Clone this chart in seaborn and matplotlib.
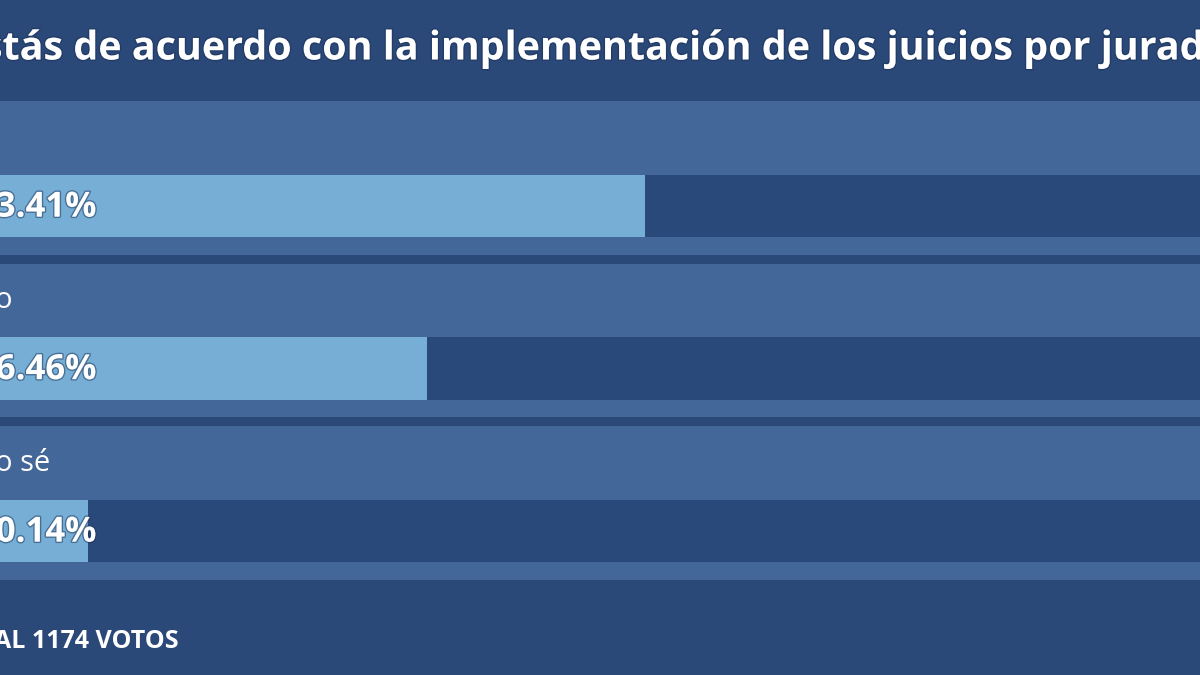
import matplotlib
matplotlib.use("Agg")
import matplotlib.pyplot as plt
from matplotlib.patches import Rectangle
import matplotlib.patheffects as pe
import seaborn as sns
import pandas as pd

# ---- data ----
title = "¿Estás de acuerdo con la implementación de los juicios por jurado?"
categories = ["Sí", "No", "No sé"]
values = [53.41, 36.46, 10.14]
track = [100, 100, 100]
footer = "TOTAL 1174 VOTOS"

# ---- colours ----
BG = "#2a4878"
PANEL = "#44679a"
TRACK = "#2a497b"
FILL = "#76aed6"

sns.set_style("white")
plt.rcParams["font.family"] = ["Open Sans", "DejaVu Sans"]

df = pd.DataFrame({"cat": categories, "val": values, "track": track})

W, H = 1200, 675
fig = plt.figure(figsize=(W / 100, H / 100), dpi=100)
fig.patch.set_facecolor(BG)

x0_px, x1_px = -42, 1244
ax = fig.add_axes([x0_px / W, 0, (x1_px - x0_px) / W, 1])
ax.set_facecolor(BG)

# panel backgrounds (decoration)
for k in range(len(categories)):
    ax.add_patch(Rectangle((-10, k - 0.645), 120, 0.945, facecolor=PANEL,
                           edgecolor="none", clip_on=False, zorder=0.5))

bar_w = 0.382
sns.barplot(data=df, x="track", y="cat", orient="h", color=TRACK,
            saturation=1, width=bar_w, ax=ax, zorder=2,
            linewidth=0, edgecolor="none")
sns.barplot(data=df, x="val", y="cat", orient="h", color=FILL,
            saturation=1, width=bar_w, ax=ax, zorder=3,
            linewidth=0, edgecolor="none")

ax.set_xlim(0, 100)
ax.set_ylim(2.886, -1.268)
ax.axis("off")

shadow = [pe.withStroke(linewidth=2, foreground="#1c3258", alpha=0.5)]

for k, (c, v) in enumerate(zip(categories, values)):
    ax.text(1.2, k - 0.418, c, color="white", fontsize=21, va="center",
            ha="left", zorder=5)
    ax.text(1.4, k + 0.01, f"{v:.2f}%", color="white", fontsize=25,
            fontweight="bold", va="center", ha="left", zorder=5,
            path_effects=shadow)

fig.text(-58 / W, 1 - 49 / H, title, color="white", fontsize=28.4,
         fontweight="bold", va="center", ha="left", path_effects=shadow)
fig.text(-52 / W, 1 - 642 / H, footer, color="white", fontsize=18,
         fontweight="bold", va="center", ha="left")

fig.savefig("out.png", dpi=100, facecolor=BG)
